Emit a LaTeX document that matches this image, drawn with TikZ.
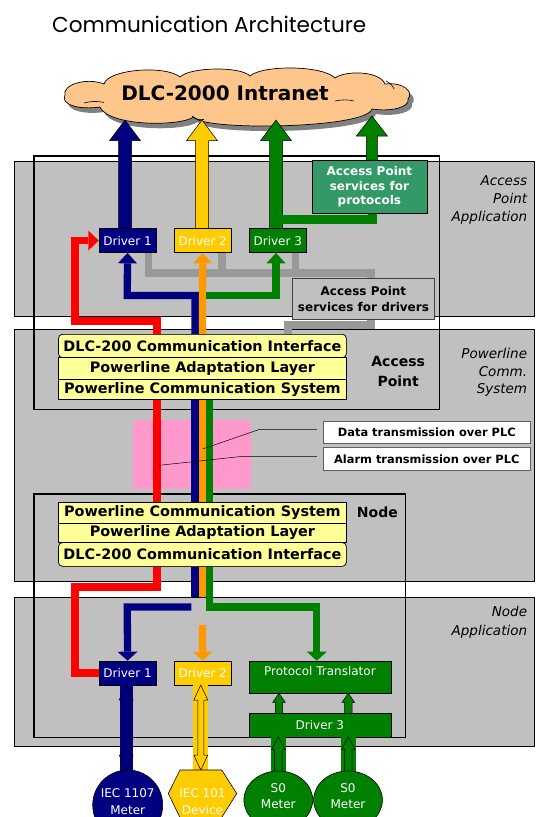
\documentclass[tikz,border=0pt]{standalone}
\usepackage{fontspec}
\usepackage{graphicx}
\setmainfont{DejaVu Sans}
\newfontfamily\titlefont{Poppins}
\usetikzlibrary{arrows.meta,calc}
\definecolor{cBand}{HTML}{C0C0C0}
\definecolor{cNavy}{HTML}{000080}
\definecolor{cYellow}{HTML}{FFCC00}
\definecolor{cGreen}{HTML}{008000}
\definecolor{cSGreen}{HTML}{339966}
\definecolor{cOrange}{HTML}{FF9900}
\definecolor{cRed}{HTML}{FF0000}
\definecolor{cLine}{HTML}{999999}
\definecolor{cPink}{HTML}{FF99CC}
\definecolor{cLayer}{HTML}{FFFF99}
\definecolor{cCloud}{HTML}{FFC68C}
\definecolor{cShadow}{HTML}{808080}
\definecolor{cBorder}{HTML}{606060}
\definecolor{cDark}{HTML}{404040}
% block arrow pointing up: x, tip y, bottom y, shaft half, head half, head length, colour
\newcommand\upblock[7]{\filldraw[fill=#7,draw=black,line width=0.5pt,line join=miter]
  ({#1-#4},#3) -- ({#1-#4},{#2+#6}) -- ({#1-#5},{#2+#6}) -- (#1,#2) --
  ({#1+#5},{#2+#6}) -- ({#1+#4},{#2+#6}) -- ({#1+#4},#3) -- cycle;}
% double block arrow: x, top y, bottom y, shaft half, head half, head length, colour
\newcommand\dblock[7]{\filldraw[fill=#7,draw=black,line width=0.5pt,line join=miter]
  (#1,#2) -- ({#1+#5},{#2+#6}) -- ({#1+#4},{#2+#6}) -- ({#1+#4},{#3-#6}) --
  ({#1+#5},{#3-#6}) -- (#1,#3) -- ({#1-#5},{#3-#6}) -- ({#1-#4},{#3-#6}) --
  ({#1-#4},{#2+#6}) -- ({#1-#5},{#2+#6}) -- cycle;}
\begin{document}
\begin{tikzpicture}[x=1pt,y=-1pt,
  band/.style={fill=cBand,draw=black,line width=0.7pt},
  frm/.style={draw=black,line width=1.6pt},
  drv/.style={draw=black,line width=0.6pt,text=white,font=\fontsize{12}{14}\selectfont,inner sep=0pt,anchor=north west,minimum height=24pt},
  lyr/.style={draw=black,line width=0.6pt,fill=cLayer,font=\bfseries\fontsize{14.4}{17}\selectfont,inner sep=0pt,anchor=north west,minimum width=287.8pt},
  cbox/.style={draw=cBorder,fill=white,line width=0.8pt,font=\bfseries\fontsize{11.4}{13}\selectfont,inner sep=0pt,anchor=north west,minimum width=206.8pt,minimum height=22.6pt},
  sidelbl/.style={font=\itshape\fontsize{13.5}{16}\selectfont,anchor=base east,inner sep=0pt},
  wt/.style={text=white,font=\fontsize{12}{14}\selectfont,anchor=base,inner sep=0pt},
  gline/.style={draw=cLine,line width=7.5pt,line join=miter},
  rline/.style={draw=cRed,line width=7.7pt,line join=miter},
  nline/.style={draw=cNavy,line width=7.3pt,line join=miter},
  oline/.style={draw=cOrange,line width=7.3pt,line join=miter},
  gnline/.style={draw=cGreen,line width=7.3pt,line join=miter},
  headA/.style={-{Triangle[width=19pt,length=10.4pt,line width=0pt]}},
  headB/.style={-{Triangle[width=20pt,length=9pt,line width=0pt]}},
  headR/.style={-{Triangle[width=20pt,length=10.4pt,line width=0pt]}},
]
\useasboundingbox (0,0) rectangle (543,817);
\clip (0,0) rectangle (543,817);
\fill[white] (0,0) rectangle (543,817);

% title
\node[anchor=base west,inner sep=0pt] (title) at (52,32.3) {\resizebox{314pt}{!}{\titlefont Communication Architecture}};

% cloud shadow and cloud
\begin{scope}[shift={(4,5)}]
\fill[cShadow] (65,95) .. controls (62,85) and (86,77) .. (104,84)
 .. controls (108,69) and (166,65) .. (180,77)
 .. controls (190,67) and (240,66) .. (250,76)
 .. controls (262,65) and (322,65) .. (335,78)
 .. controls (346,70) and (380,71) .. (385,84)
 .. controls (404,82) and (414,92) .. (408,99)
 .. controls (410,107) and (392,112) .. (372,109)
 .. controls (366,129) and (200,131) .. (194,117)
 .. controls (178,127) and (108,126) .. (100,107)
 .. controls (80,110) and (60,105) .. (65,95) -- cycle;
\end{scope}
\filldraw[fill=cCloud,draw=black,line width=0.7pt] (65,95) .. controls (62,85) and (86,77) .. (104,84)
 .. controls (108,69) and (166,65) .. (180,77)
 .. controls (190,67) and (240,66) .. (250,76)
 .. controls (262,65) and (322,65) .. (335,78)
 .. controls (346,70) and (380,71) .. (385,84)
 .. controls (404,82) and (414,92) .. (408,99)
 .. controls (410,107) and (392,112) .. (372,109)
 .. controls (366,129) and (200,131) .. (194,117)
 .. controls (178,127) and (108,126) .. (100,107)
 .. controls (80,110) and (60,105) .. (65,95) -- cycle;
\draw[black,line width=0.6pt] (84,103) .. controls (91,101) and (98,101) .. (104,102.5);
\draw[black,line width=0.6pt] (192,116) .. controls (195,119) and (199,120) .. (204,119.5);
\draw[black,line width=0.6pt] (335,101) .. controls (342,99.5) and (348,99.5) .. (354,101);
\draw[black,line width=0.6pt] (386,81) .. controls (390,83) and (393,86) .. (394,89);
\node[font=\bfseries\fontsize{20}{24}\selectfont,inner sep=0pt] (intranet) at (225,93.4) {DLC-2000 Intranet};

% bands
\path[band] (14,161.7) rectangle (534.5,316.7);
\path[band] (14,329.3) rectangle (534.5,581.7);
\path[band] (14,597.3) rectangle (534.5,746.7);

% frames
\draw[frm] (34,155.7) rectangle (439.5,409.3);
\draw[frm] (34,494) rectangle (405.3,737.3);

% side labels
\node[sidelbl] (s1a) at (527.3,185) {Access};
\node[sidelbl] (s1b) at (527.3,203.5) {Point};
\node[sidelbl] (s1c) at (527.3,221.8) {Application};
\node[sidelbl] (s2a) at (527.3,358.3) {Powerline};
\node[sidelbl] (s2b) at (527.3,376) {Comm.};
\node[sidelbl] (s2c) at (527.3,393.5) {System};
\node[sidelbl] (s3a) at (527.3,616.5) {Node};
\node[sidelbl] (s3b) at (527.3,635) {Application};

% pink PLC region
\fill[cPink] (132.6,420) rectangle (251,489.3);

% top drivers and boxes (defined early for names)
\node[drv,fill=cNavy,minimum width=57.1pt] (d1t) at (98.7,228.3) {Driver 1};
\node[drv,fill=cYellow,minimum width=57.2pt] (d2t) at (173.8,228.3) {Driver 2};
\node[drv,fill=cGreen,minimum width=57.8pt] (d3t) at (248.6,228.3) {Driver 3};
\node[draw=cDark,line width=0.8pt,fill=cBand,font=\bfseries\fontsize{12}{15.5}\selectfont,align=center,inner sep=0pt,anchor=north west,minimum width=142.3pt,minimum height=41pt] (apsd) at (291.9,278.3) {Access Point\\services for drivers};

% layers
\node[lyr,rounded corners=4pt,minimum height=23.3pt] (api) at (58.2,334) {DLC-200 Communication Interface};
\node[lyr,minimum height=21.4pt] (apa) at (58.2,357.3) {Powerline Adaptation Layer};
\node[lyr,minimum height=20.6pt] (app) at (58.2,378.7) {Powerline Communication System};
\node[lyr,rounded corners=4pt,minimum height=23.7pt] (npi) at (58.2,542.3) {DLC-200 Communication Interface};
\node[lyr,minimum height=19.6pt] (npa) at (58.2,522.7) {Powerline Adaptation Layer};
\node[lyr,minimum height=21pt] (nps) at (58.2,501.7) {Powerline Communication System};

% node application boxes
\node[drv,fill=cNavy,minimum width=57.1pt] (d1n) at (98.7,660.7) {Driver 1};
\node[drv,fill=cYellow,minimum width=57.2pt] (d2n) at (173.8,660.7) {Driver 2};
\node[draw=black,line width=0.6pt,fill=cGreen,inner sep=0pt,anchor=north west,minimum width=142pt,minimum height=32.6pt] (pt) at (248.6,660.7) {};
\node[wt] (ptl) at ($(pt.north)+(0,14.3)$) {Protocol Translator};
\node[drv,fill=cGreen,minimum width=142pt,minimum height=23.4pt] (d3n) at (248.6,713.3) {Driver 3};

% gray service lines
\draw[gline] (148.5,0 |- d1t.south) -- (148.5,273) -- (371,273) -- (371,0 |- apsd.north);
\draw[gline] (222,0 |- d2t.south) -- (222,273);
\draw[gline] (295.7,0 |- d3t.south) -- (295.7,273);
\draw[gline] (371,0 |- apsd.south) -- (371,325) -- (287.8,325) -- (287.8,0 |- api.north);

% red alarm path
\draw[rline,headR] (156.9,0 |- api.north) -- (156.9,320.8) -- (75,320.8) -- (75,0 |- d1t.west) -- (d1t.west);
\draw[rline] (156.9,0 |- app.south) -- (156.9,0 |- nps.north);
\draw[rline] (156.9,0 |- npi.south) -- (156.9,587) -- (75,587) -- (75,0 |- d1n.west) -- (d1n.west);

% navy data path
\draw[nline,headA] (195.1,0 |- api.north) -- (195.1,295.5) -- (127.25,295.5) -- (d1t.south);
\draw[nline] (195.1,0 |- app.south) -- (195.1,0 |- nps.north);
\draw[nline] (195.1,0 |- npi.south) -- (195.1,597.3);
\draw[nline,headB] (191.45,607) -- (127.25,607) -- (d1n.north);

% orange data path
\draw[oline,headA] (202.4,0 |- api.north) -- (d2t.south);
\draw[oline] (202.4,0 |- app.south) -- (202.4,0 |- nps.north);
\draw[oline] (202.4,0 |- npi.south) -- (202.4,597.3);
\draw[oline,headB] (202.4,625) -- (d2n.north);

% green data path
\draw[gnline,headA] (206.05,295.5) -- (276,295.5) -- (276,0 |- d3t.south);
\draw[gnline] (209.7,0 |- app.south) -- (209.7,0 |- nps.north);
\draw[gnline,headB] (209.7,0 |- npi.south) -- (209.7,607) -- (316.8,607) -- (316.8,0 |- pt.north);

% redraw layers on top of lines
\node[lyr,rounded corners=4pt,minimum height=23.3pt] (api2) at (58.2,334) {DLC-200 Communication Interface};
\node[lyr,minimum height=21.4pt] (apa2) at (58.2,357.3) {Powerline Adaptation Layer};
\node[lyr,minimum height=20.6pt] (app2) at (58.2,378.7) {Powerline Communication System};
\node[lyr,rounded corners=4pt,minimum height=23.7pt] (npi2) at (58.2,542.3) {DLC-200 Communication Interface};
\node[lyr,minimum height=19.6pt] (npa2) at (58.2,522.7) {Powerline Adaptation Layer};
\node[lyr,minimum height=21pt] (nps2) at (58.2,501.7) {Powerline Communication System};

\node[font=\bfseries\fontsize{14}{20}\selectfont,align=center,inner sep=0pt] (aplbl) at (398.2,371) {Access\\Point};
\node[font=\bfseries\fontsize{14}{17}\selectfont,anchor=base,inner sep=0pt] (nodelbl) at (377.4,517.3) {Node};

% callouts
\node[cbox] (data) at (323,420.7) {Data transmission over PLC};
\node[cbox] (alarm) at (323,447.3) {Alarm transmission over PLC};
\draw[black,line width=0.5pt] (316.8,429.3) -- (259.7,429.3) -- (202.6,449);
\draw[black,line width=0.5pt] (316.8,456.7) -- (239,456.7) -- (159.3,465.3);

% cloud arrows
\upblock{125}{120}{228.3}{6.5}{15.5}{20.7}{cNavy}
\upblock{202}{120}{228.3}{6.5}{15.5}{20.7}{cYellow}
\upblock{276}{120}{228.3}{6.5}{15.5}{20.7}{cGreen}
\upblock{371.9}{116}{160}{5.5}{15.5}{20}{cGreen}

% access point services for protocols
\node[draw=black,line width=0.6pt,fill=cSGreen,text=white,font=\bfseries\fontsize{12}{14.5}\selectfont,align=center,inner sep=0pt,anchor=north west,minimum width=115pt,minimum height=53.3pt] (apsp) at (311.6,160) {Access Point\\services for\\protocols};
\draw[cGreen,line width=9pt,line join=miter] (372.2,0 |- apsp.south) -- (372.2,219.5) -- (282,219.5);

% redraw top drivers above arrows
\node[drv,fill=cNavy,minimum width=57.1pt] (d1t2) at (98.7,228.3) {Driver 1};
\node[drv,fill=cYellow,minimum width=57.2pt] (d2t2) at (173.8,228.3) {Driver 2};
\node[drv,fill=cGreen,minimum width=57.8pt] (d3t2) at (248.6,228.3) {Driver 3};

% driver 3 to protocol translator
\upblock{279}{693.3}{713.3}{3.7}{6.3}{9}{cGreen}
\upblock{348.3}{693.3}{713.3}{3.7}{6.3}{9}{cGreen}

% field devices links
\fill[cNavy] (119.5,685) rectangle (132.9,772);
\dblock{126.2}{685}{770}{3}{7}{15}{cNavy}
\fill[cYellow] (193.3,685) rectangle (208.3,772);
\dblock{200.8}{685}{770}{3}{7}{15}{cYellow}
\fill[cGreen] (270.7,736.7) rectangle (286,773);
\upblock{278.3}{736.7}{775}{3.7}{6.7}{13}{cGreen}
\fill[cGreen] (340.6,736.7) rectangle (355.9,773);
\upblock{348.3}{736.7}{775}{3.7}{6.7}{13}{cGreen}

% field devices
\filldraw[fill=cNavy,draw=black,line width=0.6pt] (127.7,805) ellipse [x radius=35,y radius=35];
\node[wt] (m1a) at (127.7,797) {IEC 1107};
\node[wt] (m1b) at (127.7,814.4) {Meter};
\filldraw[fill=cYellow,draw=black,line width=0.6pt] (180,770) -- (221.7,770) -- (236.7,793.5) -- (221.7,817.5) -- (180,817.5) -- (168.3,793.5) -- cycle;
\node[wt] (m2a) at (202.5,797) {IEC 101};
\node[wt] (m2b) at (202.5,814.4) {Device};
\filldraw[fill=cGreen,draw=black,line width=0.6pt] (278.3,800) ellipse [x radius=34.4,y radius=29];
\node[wt] (m3a) at (278.3,792.7) {S0};
\node[wt] (m3b) at (278.3,808.4) {Meter};
\filldraw[fill=cGreen,draw=black,line width=0.6pt] (348,800) ellipse [x radius=34.4,y radius=29];
\node[wt] (m4a) at (348,792.7) {S0};
\node[wt] (m4b) at (348,808.4) {Meter};
\end{tikzpicture}
\end{document}
